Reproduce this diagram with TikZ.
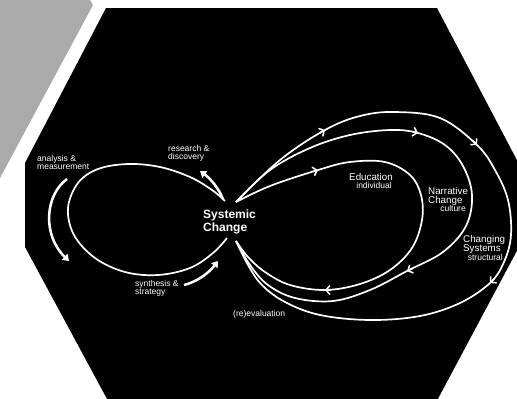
\documentclass[tikz,border=0pt]{standalone}
\usepackage{fontspec}
\setmainfont{Liberation Sans}
\usetikzlibrary{arrows.meta}
\definecolor{greyc}{RGB}{170,170,170}
\begin{document}
\begin{tikzpicture}[x=1pt,y=-1pt,
  loopline/.style={draw=white, line width=1.7pt, line join=round},
  chev/.style={draw=white, line width=1.5pt, -{Straight Barb[length=4pt,width=9pt]}},
  thickarr/.style={draw=white, line width=2.5pt, -{Triangle[length=6pt,width=8pt]}},
  small/.style={text=white, inner sep=0pt, font=\fontsize{8.5}{8.2}\selectfont},
  title/.style={text=white, inner sep=0pt, font=\fontsize{9.8}{9}\selectfont},
  big/.style={text=white, inner sep=0pt, font=\fontsize{12}{13}\selectfont\bfseries}]
\useasboundingbox (0,0) rectangle (517,399);
\clip (0,0) rectangle (517,399);
\fill[white] (0,0) rectangle (517,399);
\fill[greyc] (0,0) -- (90,0) -- (93,5) -- (0,178) -- cycle;
\fill[black] (106,8) -- (437,8) -- (520,166) -- (520,245) -- (432,410) -- (113,410) -- (25,247) -- (25,163) -- cycle;

% centre
\node[big, align=left, anchor=north west] (sc) at (203,210) {Systemic\\Change};
\coordinate (top) at (236,202);
\coordinate (bot) at (236,241);

% left loop
\draw[loopline] plot[smooth, tension=0.6] coordinates {(225,201) (212,190) (190,177) (160,167) (128,164) (98,169) (78,183) (68,208) (74,235) (95,258) (125,272) (158,275) (190,268) (213,253) (227,238)};

% left arrows
\draw[thickarr] (223,199) .. controls (219,189) and (211,179) .. (200,171);
\draw[thickarr] (67,179) .. controls (45,195) and (42,235) .. (69,261);
\draw[thickarr] (184,285) .. controls (196,282) and (208,274) .. (218,261);

% right loops
\draw[loopline] plot[smooth, tension=0.6] coordinates {(top) (270,186) (318,170) (350,162) (385,162) (410,175) (421,195) (422,220) (412,248) (390,270) (360,284) (325,290) (290,285) (265,272) (248,257) (bot)};
\draw[loopline] plot[smooth, tension=0.6] coordinates {(top) (270,170) (310,148) (350,135) (390,130) (418,133) (445,145) (463,166) (472,195) (466,226) (443,252) (407,271) (370,290) (333,301) (295,298) (268,285) (250,265) (bot)};
\draw[loopline] plot[smooth, tension=0.6] coordinates {(top) (280,160) (325,130) (360,116) (395,112) (440,118) (477,145) (495,170) (508,200) (511,235) (504,262) (490,283) (460,303) (420,316) (370,320) (320,315) (285,302) (262,285) (248,265) (bot)};

% chevrons
\draw[chev] (312.3,171.7) -- (318,170);
\draw[chev] (331,290) -- (325,290);
\draw[chev] (412.2,131.4) -- (418,133);
\draw[chev] (412.5,268.5) -- (407,271);
\draw[chev] (319.7,132.9) -- (325,130);
\draw[chev] (472.8,140.8) -- (477,145);
\draw[chev] (494.4,278.9) -- (490,283);

% labels
\node[small, align=left, anchor=north west] (am) at (37,155) {analysis \&\\measurement};
\node[small, align=left, anchor=north west] (rd) at (168,145) {research \&\\discovery};
\node[small, align=left, anchor=north west] (ss) at (135,280) {synthesis \&\\strategy};
\node[small, anchor=base west] (re) at (233,316) {(re)evaluation};
\node[title, anchor=north east] (ed) at (393,173) {Education};
\node[small, anchor=north east] (ind) at (392,182) {individual};
\node[title, align=left, anchor=north west] (nc) at (428,187) {Narrative\\Change};
\node[small, anchor=north east] (cu) at (466,205) {culture};
\node[title, align=left, anchor=north west] (cs) at (463,235) {Changing\\Systems};
\node[small, anchor=north east] (st) at (503,254) {structural};
\end{tikzpicture}
\end{document}
